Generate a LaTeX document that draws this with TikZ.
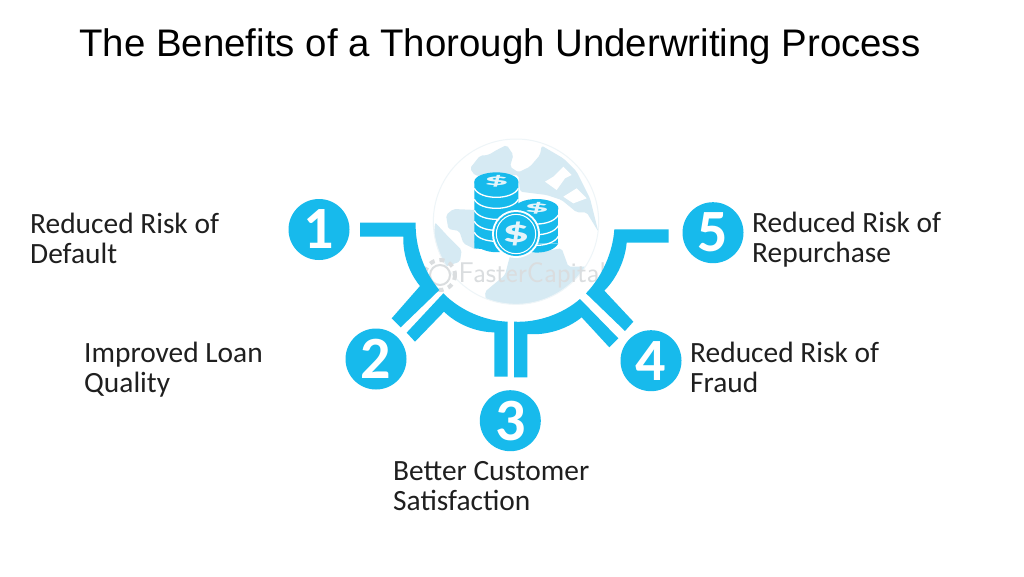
\documentclass[tikz,border=0pt]{standalone}
\usepackage{fontspec}
\setmainfont{Carlito}
\newfontfamily\titlefont{Liberation Sans}
\usetikzlibrary{calc}
\definecolor{cy}{HTML}{17BAEC}
\definecolor{globeblue}{HTML}{D6EAF3}
\definecolor{wmgrey}{HTML}{DADDDF}
\definecolor{smudge}{HTML}{DDF3FA}
\definecolor{globeedge}{HTML}{EEF5F8}
\definecolor{coinmark}{HTML}{E4F4FA}
\tikzset{
  numdot/.style={circle,fill=cy,minimum size=61pt,inner sep=0pt,text=white,font=\fontsize{60}{60}\selectfont\bfseries},
  lbl/.style={anchor=west,align=left,inner sep=0pt,text=black!88,font=\fontsize{29.4}{30}\selectfont},
  band/.style={fill=cy,draw=none},
  coinline/.style={draw=white,line width=1.3pt},
  px/.style={x=.33333pt,y=-.33333pt},
  blob/.style={fill=globeblue,draw=none,rounded corners=2pt},
  topdollar/.style={text=coinmark,inner sep=0pt,font=\bfseries\fontsize{21}{21}\selectfont,xscale=2.4,yscale=.75}
}
\begin{document}
\begin{tikzpicture}[x=1pt,y=-1pt]
\useasboundingbox (0,0) rectangle (1024,576);
\fill[white] (0,0) rectangle (1024,576);
\shade[left color=white,middle color=smudge,right color=white] (715,0) rectangle (835,2.5);
\node[anchor=center,inner sep=0pt,font=\titlefont\fontsize{38.4}{40}\selectfont] (title) at (500,47) {The Benefits of a Thorough Underwriting Process};

% globe
\begin{scope}[shift={(430,135)},px]
  \begin{scope}
    \clip (258,260) circle (248);
    \fill[blob] (120,100)--(150,62)--(175,60)--(200,45)--(230,30)--(250,60)--(240,95)--(265,112)--(300,95)--(330,60)--(335,32)--(400,70)--(440,110)--(480,190)--(505,290)--(470,232)--(440,232)--(395,195)--(350,180)--(270,170)--(265,120)--(135,122)--cycle;
    \fill[blob] (48,240)--(70,222)--(140,225)--(140,345)--(100,325)--(88,288)--(55,282)--cycle;
    \fill[blob] (15,262)--(50,300)--(95,345)--(90,380)--(30,400)--(10,330)--cycle;
    \fill[blob] (240,362)--(300,355)--(395,340)--(415,395)--(480,395)--(440,470)--(300,520)--(170,520)--(165,470)--(225,420)--cycle;
    \fill[white] (345,140)--(370,125)--(400,95)--(425,120)--(405,130)--(380,165)--cycle;
    \fill[white] (400,185)--(440,160)--(470,190)--(430,205)--cycle;
  \end{scope}
  \draw[line width=1pt,draw=globeedge] (258,260) circle (248);
  % back coin stack
  \fill[cy] (133,140)--(265,140)--(265,352)--(133,340)--cycle;
  \fill[cy] (133,320) .. controls (150,362) and (248,362) .. (265,320) -- cycle;
  \fill[cy] (255,220)--(385,220)--(385,325)--(255,325)--cycle;
  \fill[cy] (255,325) .. controls (275,362) and (365,362) .. (385,325) -- cycle;
  \foreach \yy in {160,193,226,259,292}{
    \draw[coinline] (133,\yy) .. controls (150,\yy+36) and (248,\yy+36) .. (265,\yy);
  }
  \foreach \yy in {240,272,304}{
    \draw[coinline] (255,\yy) .. controls (275,\yy+36) and (365,\yy+36) .. (385,\yy);
  }
  \fill[cy] (199,140) ellipse [x radius=66,y radius=28];
  \fill[cy] (320,220) ellipse [x radius=65,y radius=28];
  \node[topdollar] (d1) at (199,139) {\$};
  \node[topdollar] (d2) at (320,219) {\$};
  \fill[white] (258,297) circle (72);
  \fill[cy] (258,297) circle (66);
  \draw[white,line width=1pt] (258,297) circle (59);
  \node[text=coinmark,inner sep=0pt,font=\bfseries\fontsize{32}{32}\selectfont,xscale=1.7] (d3) at (258,298) {\$};
  % watermark
  \draw[wmgrey,line width=2pt] (30,420) circle (30);
  \draw[wmgrey,line width=4pt,dash pattern=on 5pt off 5pt] (30,420) circle (45);
  \node[text=wmgrey,inner sep=0pt,anchor=west,font=\sffamily\fontsize{28.5}{28.5}\selectfont] (wm) at (85,420) {FasterCapital};
\end{scope}

% connector bands
\begin{scope}[shift={(280,130)},px]
  \path[band] (240,278)--(407,278) to[bend right=21,looseness=.85] (478,480)--(362,592)--(335,565)--(420,468) to[bend left=21,looseness=.85] (370,320)--(240,320)--cycle;
  \path[band] (490,490) to[bend right=22,looseness=.85] (683,575)--(683,740)--(643,740)--(643,607) to[bend left=22,looseness=.85] (492,545)--(405,635)--(380,608)--cycle;
  \path[band] (702,575) to[bend right=22,looseness=.85] (900,507)--(1015,625)--(988,652)--(905,562) to[bend left=22,looseness=.85] (742,612)--(742,742)--(702,742)--cycle;
  \path[band] (918,490) to[bend right=20,looseness=.85] (1003,298)--(1166,298)--(1166,338)--(1040,338) to[bend left=20,looseness=.85] (973,482)--(1060,575)--(1035,603)--cycle;
\end{scope}

\node[numdot] (n1) at (319,229.5) {1};
\node[numdot] (n2) at (376,359) {2};
\node[numdot] (n3) at (510.3,420.7) {3};
\node[numdot] (n4) at (651,360.7) {4};
\node[numdot] (n5) at (713,232.7) {5};

\node[lbl] (t1) at (30,238) {Reduced Risk of\\Default};
\node[lbl] (t2) at (84,370) {Improved Loan\\Quality};
\node[lbl] (t3) at (393,486) {Better Customer\\Satisfaction};
\node[lbl] (t4) at (690,367.5) {Reduced Risk of\\Fraud};
\node[lbl] (t5) at (752,240) {Reduced Risk of\\Repurchase};
\end{tikzpicture}
\end{document}
